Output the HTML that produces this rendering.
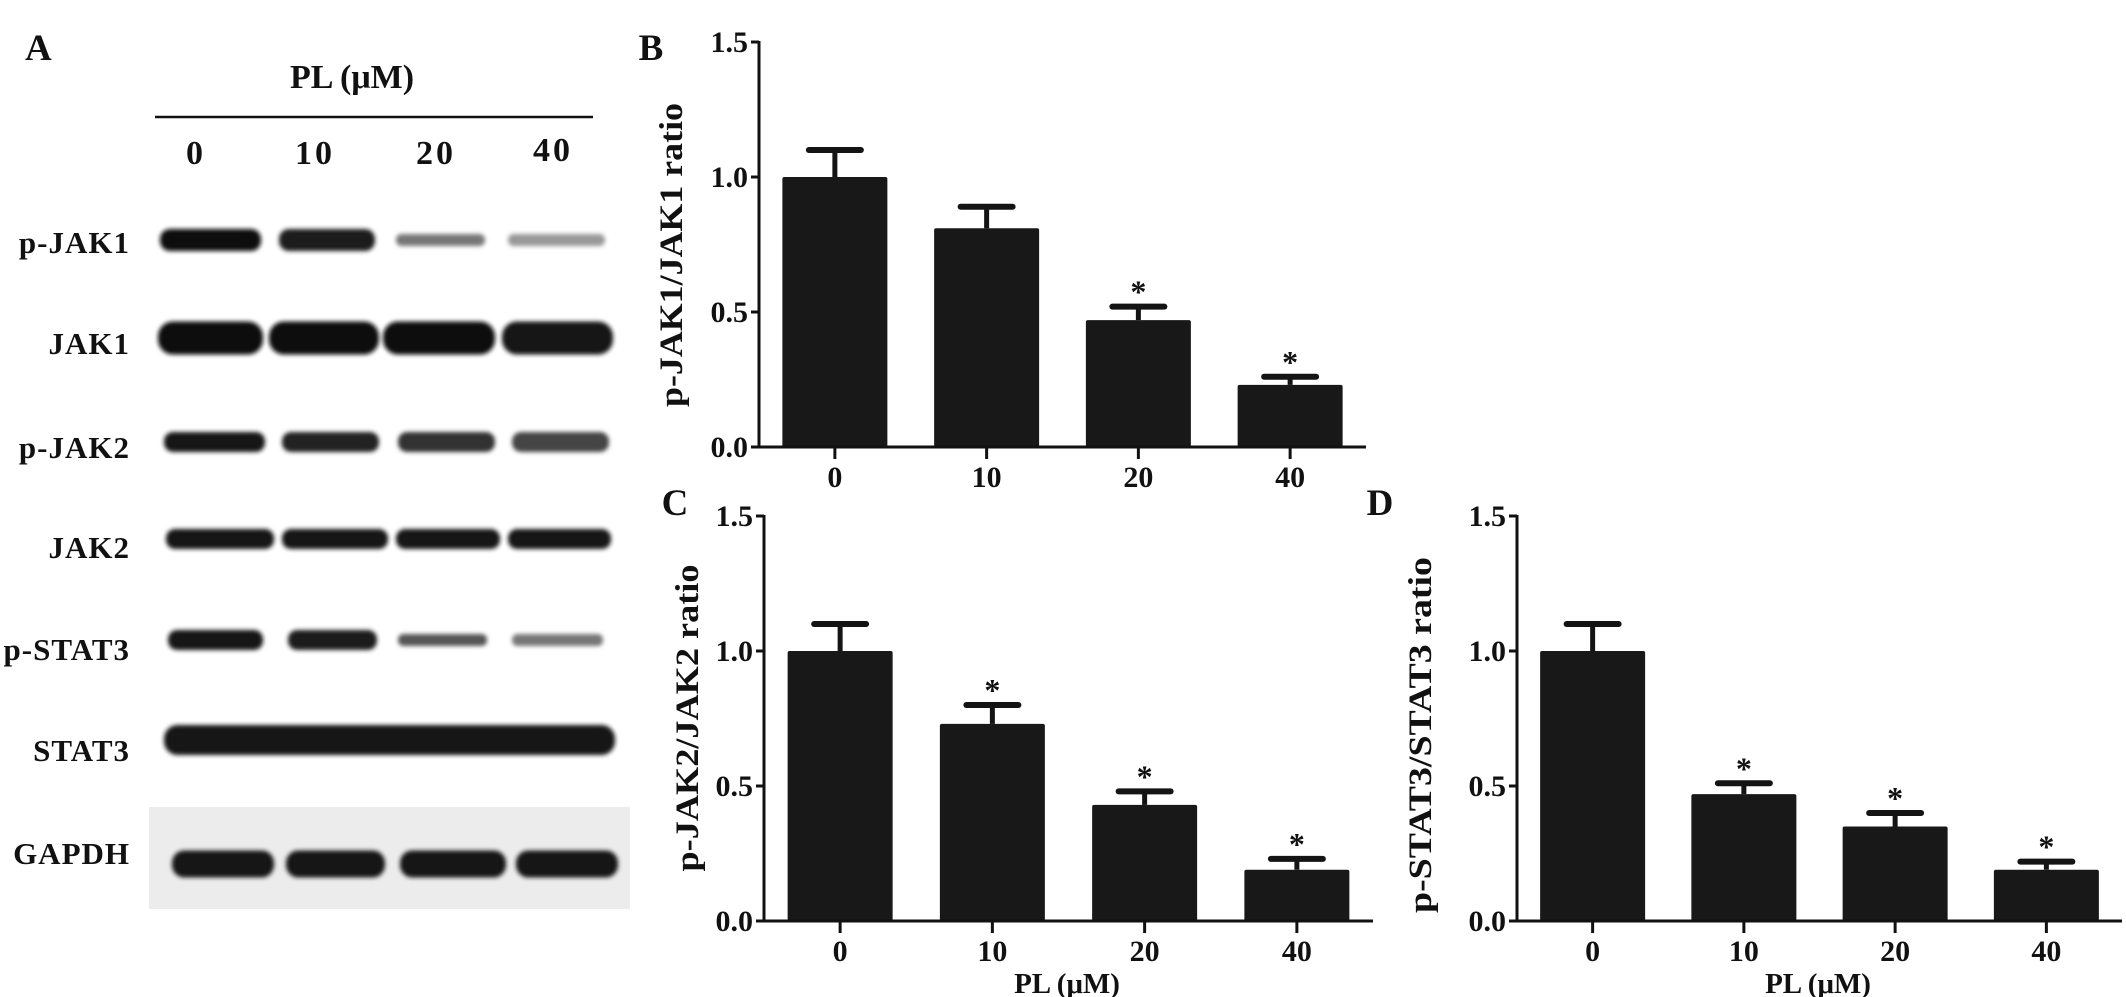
<!DOCTYPE html>
<html><head><meta charset="utf-8"><style>
html,body{margin:0;padding:0;background:#fff;}
svg{display:block;}
text{font-family:"Liberation Serif",serif;font-weight:bold;fill:#111;}
</style></head><body>
<svg id="fig" width="2126" height="997" viewBox="0 0 2126 997" xmlns="http://www.w3.org/2000/svg">
<defs><filter id="blur" x="-10%" y="-50%" width="120%" height="200%"><feGaussianBlur stdDeviation="2.2"/></filter></defs>
<g id="panelA">
<text x="25" y="60" font-size="37">A</text>
<text x="352" y="88" font-size="34" text-anchor="middle">PL (μM)</text>
<line x1="155" y1="117" x2="593" y2="117" stroke="#111" stroke-width="2.5"/>
<rect x="149" y="807" width="481" height="102" fill="#ececec"/>
</g>
<g id="panelB"></g><g id="panelC"></g><g id="panelD"></g>
</svg>
<script>
// Blot lanes
const laneLabels = ["0","10","20","40"];
const rowLabels = ["p-JAK1","JAK1","p-JAK2","JAK2","p-STAT3","STAT3","GAPDH"];
// Chart data
const doses = ["0","10","20","40"];
const yTicks = [0, 0.5, 1.0, 1.5];
const yTickLabels = ["0.0","0.5","1.0","1.5"];
const jak1Values = [1.0, 0.81, 0.47, 0.23];
const jak1Errors = [0.10, 0.08, 0.05, 0.03];
const jak1Sig = [false, false, true, true];
const jak2Values = [1.0, 0.73, 0.43, 0.19];
const jak2Errors = [0.10, 0.07, 0.05, 0.04];
const jak2Sig = [false, true, true, true];
const stat3Values = [1.0, 0.47, 0.35, 0.19];
const stat3Errors = [0.10, 0.04, 0.05, 0.03];
const stat3Sig = [false, true, true, true];

const NS = "http://www.w3.org/2000/svg";
function mk(tag, attrs, parent, txt){
  const e = document.createElementNS(NS, tag);
  for (const k in attrs) e.setAttribute(k, attrs[k]);
  if (txt !== undefined) e.textContent = txt;
  parent.appendChild(e);
  return e;
}

// ---- Blot ----
const A = document.getElementById("panelA");
const laneNumX = [196, 315, 436, 553];
laneLabels.forEach((l, i) => {
  const t = mk("text", {x: laneNumX[i], y: i === 3 ? 161 : 164, "font-size": 34, "text-anchor": "middle", "letter-spacing": "3"}, A, l);
  
  
});
const rowY = [242, 343, 447, 547, 649, 750, 853];
rowLabels.forEach((l, i) => {
  const t = mk("text", {x: 130, y: rowY[i] + 11, "font-size": 31, "text-anchor": "end", "letter-spacing": "1"}, A, l);
  
  
});
const bands = [
  [240, 22, [[160,261,"#111"],[279,375,"#1a1a1a"],[396,485,"#777"],[508,605,"#999"]]],
  [338, 33, [[158,263,"#111"],[269,379,"#111"],[383,495,"#111"],[502,613,"#141414"]]],
  [442, 20, [[164,265,"#151515"],[282,379,"#222"],[398,495,"#333"],[512,609,"#444"]]],
  [539, 20, [[166,274,"#131313"],[282,388,"#151515"],[396,500,"#181818"],[508,611,"#181818"]]],
  [640, 20, [[168,263,"#141414"],[288,377,"#1c1c1c"],[398,487,"#555"],[512,603,"#777"]]],
  [740, 30, [[164,615,"#121212"]]],
  [864, 27, [[172,274,"#121212"],[286,385,"#151515"],[400,506,"#151515"],[516,618,"#151515"]]]
];
bands.forEach((b, r) => {
  b[2].forEach((ln, j) => {
    const h = (r === 0 && j >= 2) || (r === 4 && j >= 2) ? 12 : b[1];
    const e = mk("rect", {x: ln[0], y: b[0] - h/2, width: ln[1]-ln[0], height: h, rx: h/2.2, fill: ln[2], filter: "url(#blur)"}, A);
    
    
  });
});

// ---- Bar charts ----
function barChart(gid, cfg, values, errors, sig){
  const g = document.getElementById(gid);
  const band = (cfg.xEnd - cfg.ax) / doses.length;
  const barW = 105;
  const yS = v => cfg.y0 - (v / 1.5) * (cfg.y0 - cfg.y15);
  const xC = i => cfg.ax + band * (i + 0.5);
  values.forEach((v, i) => {
    const top = yS(v + errors[i]);
    const eb = mk("line", {x1: xC(i), x2: xC(i), y1: yS(v), y2: top, stroke: "#141414", "stroke-width": 5}, g);
    
    
    const cap = mk("line", {x1: xC(i) - 26, x2: xC(i) + 26, y1: top, y2: top, stroke: "#141414", "stroke-width": 6, "stroke-linecap": "round"}, g);
    
    
    const r = mk("rect", {x: xC(i) - barW/2, y: yS(v), width: barW, height: cfg.y0 - yS(v), fill: "#181818", rx: 2}, g);
    
    
    if (sig[i]) {
      const s = mk("text", {x: xC(i), y: top - 4, "font-size": 32, "text-anchor": "middle"}, g, "*");
      
      
    }
    const tk = mk("line", {x1: xC(i), x2: xC(i), y1: cfg.y0, y2: cfg.y0 + 12, stroke: "#111", "stroke-width": 3}, g);
    
    
    const tl = mk("text", {x: xC(i), y: cfg.y0 + 40, "font-size": 30, "text-anchor": "middle"}, g, doses[i]);
    
    
  });
  const ya = mk("line", {x1: cfg.ax, x2: cfg.ax, y1: cfg.y15 - 1, y2: cfg.y0 + 1.5, stroke: "#111", "stroke-width": 3}, g);
  
  
  const xa = mk("line", {x1: cfg.ax, x2: cfg.xEnd, y1: cfg.y0, y2: cfg.y0, stroke: "#111", "stroke-width": 3}, g);
  
  
  yTicks.forEach((t, i) => {
    const tk = mk("line", {x1: cfg.ax - 8, x2: cfg.ax, y1: yS(t), y2: yS(t), stroke: "#111", "stroke-width": 3}, g);
    
    
    const tl = mk("text", {x: cfg.ax - 11, y: yS(t) + 10, "font-size": 30, "text-anchor": "end"}, g, yTickLabels[i]);
    
    
  });
  const yt = mk("text", {x: 0, y: 0, "font-size": 33, "text-anchor": "middle", transform: "translate(" + (cfg.tx + 11) + "," + cfg.ty + ") rotate(-90)", textLength: cfg.tl, lengthAdjust: "spacingAndGlyphs"}, g, cfg.title);
  
  
  const pl = mk("text", {x: cfg.lx, y: cfg.ly + 13, "font-size": 37, "text-anchor": "middle"}, g, cfg.label);
  
  
  if (cfg.xt) {
    const xt = mk("text", {x: cfg.xtx, y: cfg.y0 + 72, "font-size": 29, "text-anchor": "middle"}, g, "PL (μM)");
    
    
  }
}
barChart("panelB", {ax: 759, xEnd: 1366, y0: 447, y15: 42, title: "p-JAK1/JAK1 ratio", tx: 671, ty: 255, tl: 304, label: "B", lx: 651, ly: 47, xt: false}, jak1Values, jak1Errors, jak1Sig);
barChart("panelC", {ax: 764, xEnd: 1373, y0: 921, y15: 516, title: "p-JAK2/JAK2 ratio", tx: 687, ty: 718, tl: 307, label: "C", lx: 675, ly: 502, xt: true, xtx: 1067}, jak2Values, jak2Errors, jak2Sig);
barChart("panelD", {ax: 1517, xEnd: 2122, y0: 921, y15: 516, title: "p-STAT3/STAT3 ratio", tx: 1420, ty: 735, tl: 356, label: "D", lx: 1380, ly: 502, xt: true, xtx: 1818}, stat3Values, stat3Errors, stat3Sig);
</script>
</body></html>
